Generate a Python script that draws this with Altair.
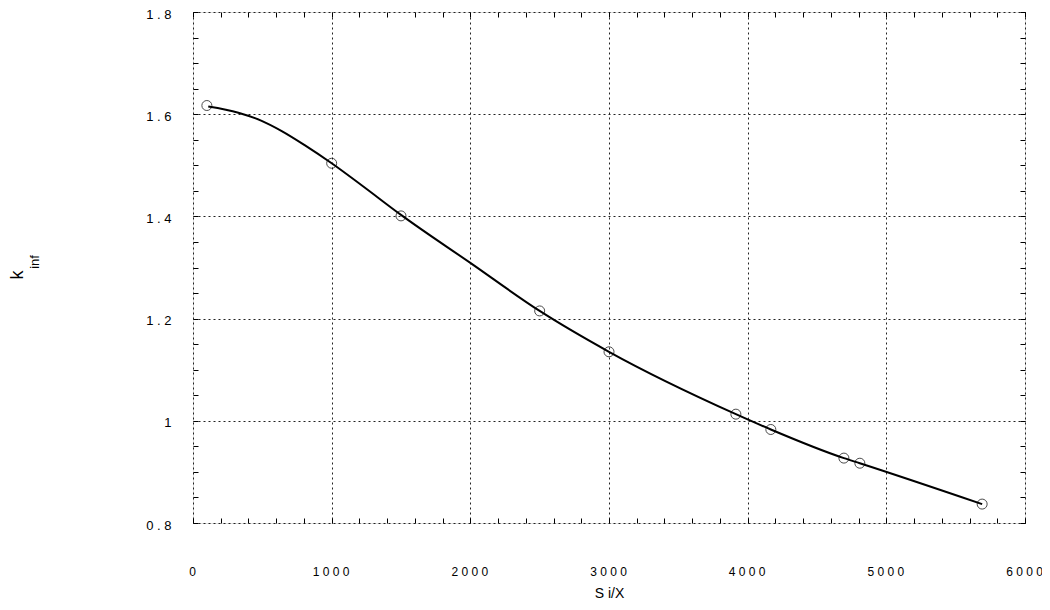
import altair as alt
import pandas as pd

# measured data points (circles)
pt_x = [100, 1000, 1500, 2500, 3000, 3915, 4167, 4694, 4809, 5691]
pt_y = [1.617, 1.504, 1.401, 1.215, 1.135, 1.013, 0.983, 0.927, 0.917, 0.837]

# fitted curve, samples
curve_x = [110, 327, 495, 640, 808, 1000, 1216, 1500, 2000, 2500, 3000, 3915, 4167, 4694, 4809, 5691]
curve_y = [1.615, 1.603, 1.587, 1.567, 1.539, 1.504, 1.461, 1.403, 1.309, 1.215, 1.135, 1.013, 0.983, 0.927, 0.917, 0.837]

x_major = [0, 1000, 2000, 3000, 4000, 5000, 6000]
y_major = [0.8, 1.0, 1.2, 1.4, 1.6, 1.8]
x_minor = [i * 200 for i in range(31)]
y_minor = [round(0.8 + 0.05 * i, 2) for i in range(21)]

FONT = "Liberation Sans"

pts = pd.DataFrame({"x": pt_x, "y": pt_y})
crv = pd.DataFrame({"x": curve_x, "y": curve_y})

xs = alt.Scale(domain=[0, 6000], nice=False, zero=False)
ys = alt.Scale(domain=[0.8, 1.8], nice=False, zero=False)

space_expr = "replace(datum.label, regexp('(.)(?=.)', 'g'), '$1 ')"

main_x = alt.Axis(values=x_major, grid=True, gridDash=[2, 3], gridColor="#222", gridWidth=1,
                  ticks=False, domain=False, labelPadding=43, labelFont=FONT, labelFontSize=12,
                  labelColor="black", format="d", labelExpr=space_expr, labelFlush=False,
                  labelOffset=-1,
                  title="S i/X", titleFont=FONT, titleFontSize=14, titleFontWeight="normal",
                  titleColor="black", titlePadding=9)
main_y = alt.Axis(values=y_major, grid=True, gridDash=[2, 3], gridColor="#222", gridWidth=1,
                  ticks=False, domain=False, labelPadding=22, labelFont=FONT, labelFontSize=13,
                  labelColor="black", format=".2~f", labelExpr=space_expr, labelOffset=2,
                  title=None)

line = alt.Chart(crv).mark_line(color="black", strokeWidth=2, interpolate="monotone").encode(
    x=alt.X("x:Q", scale=xs, axis=main_x),
    y=alt.Y("y:Q", scale=ys, axis=main_y),
)

points = alt.Chart(pts).mark_point(shape="circle", size=100, color="black", strokeWidth=1, filled=False).encode(
    x=alt.X("x:Q", scale=xs, axis=None),
    y=alt.Y("y:Q", scale=ys, axis=None),
)

def tick_axis(vals, orient):
    return alt.Axis(values=vals, orient=orient, offset=-5, tickSize=5, tickColor="black",
                    labels=False, domain=False, grid=False, title=None)

ticks_bl = alt.Chart(pts).mark_point(opacity=0).encode(
    x=alt.X("x:Q", scale=xs, axis=tick_axis(x_minor, "bottom")),
    y=alt.Y("y:Q", scale=ys, axis=tick_axis(y_minor, "left")),
)
ticks_tr = alt.Chart(pts).mark_point(opacity=0).encode(
    x=alt.X("x:Q", scale=xs, axis=tick_axis(x_minor, "top")),
    y=alt.Y("y:Q", scale=ys, axis=tick_axis(y_minor, "right")),
)

k_text = alt.Chart(alt.InlineData(values=[{"t": "k"}])).mark_text(
    angle=270, font=FONT, fontSize=18, align="center", baseline="middle", color="black"
).encode(x=alt.value(-175), y=alt.value(263), text="t:N")
inf_text = alt.Chart(alt.InlineData(values=[{"t": "inf"}])).mark_text(
    angle=270, font=FONT, fontSize=13, align="center", baseline="middle", color="black"
).encode(x=alt.value(-158), y=alt.value(250), text="t:N")

chart = alt.layer(line, points, ticks_bl, ticks_tr, k_text, inf_text).resolve_axis(
    x="independent", y="independent"
).properties(
    width=832, height=511,
    autosize=alt.AutoSizeParams(type="none"),
    padding={"left": 185, "top": 4, "right": 17, "bottom": 79},
).configure_view(stroke="black", strokeWidth=1.2).configure(background="white")

chart.save("out.html", embed_options={"renderer": "svg", "actions": False})
